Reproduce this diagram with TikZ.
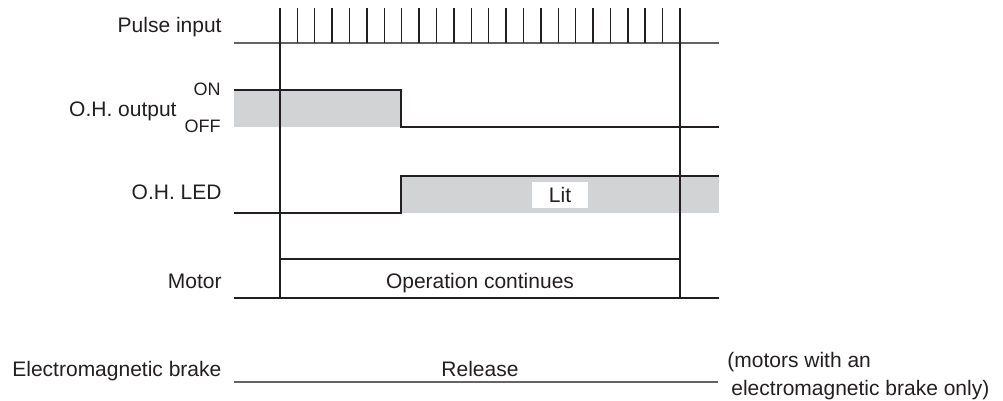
\documentclass[tikz,border=0pt]{standalone}
\usepackage{fontspec}
\setmainfont{Liberation Sans}
\usetikzlibrary{positioning}

\definecolor{zonegray}{RGB}{209,211,212}
\definecolor{ink}{RGB}{35,31,32}
\definecolor{railgray}{RGB}{100,100,100}

\begin{document}
\begin{tikzpicture}[
  x=0.5pt, y=-0.5pt,
  font=\fontsize{10.5}{14}\selectfont,
  sig/.style  ={draw=ink, line width=0.7pt},
  rail/.style ={draw=railgray, line width=1.1pt},
  guide/.style={draw=ink, line width=0.6pt},
  zone/.style ={fill=zonegray},
  lbl/.style  ={anchor=base east, inner sep=0pt, text=ink},
  lvl/.style  ={lbl, font=\fontsize{9}{10}\selectfont},
  txt/.style  ={anchor=base, inner sep=0pt, text=ink},
]
\useasboundingbox (0,0) rectangle (1003,401);

% ---------- signal names on the left ----------
\node[lbl] (lpulse) at (222,33)  {Pulse input};
\node[lbl] (lohout) at (177,117) {O.H. output};
\node[lvl] (lon)    at (221,96)  {ON};
\node[lvl] (loff)   at (221,133) {OFF};
\node[lbl] (lled)   at (222,199) {O.H. LED};
\node[lbl] (lmotor) at (222,289) {Motor};
\node[anchor=base west, inner sep=0pt, text=ink] (lbrake) at (12,376) {Electromagnetic brake};

% ---------- shaded levels ----------
\fill[zone] (234,90) rectangle (401,127);
\fill[zone] (401,176) rectangle (719,213);

% ---------- pulse input ----------
\draw[rail] (234,43) -- (719,43);
\foreach \k in {0,...,23}
  \draw[sig] ({280+17.39*\k},8) -- ({280+17.39*\k},43);

% ---------- time markers ----------
\draw[guide] (280,8) -- (280,298);
\draw[guide] (680,8) -- (680,298);

% ---------- O.H. output and LED ----------
\draw[sig] (234,90) -- (401,90) -- (401,127) -- (719,127);
\draw[sig] (234,213) -- (401,213) -- (401,176) -- (719,176);
\node[fill=white, minimum width=28pt, minimum height=13pt, inner sep=0pt, text=ink] (lit) at (560,195) {Lit};

% ---------- motor ----------
\draw[sig] (234,298) -- (719,298);
\draw[sig] (280,259) -- (680,259);
\node[txt] (opcont) at (480,289) {Operation continues};

% ---------- brake ----------
\draw[rail] (234,382) -- (718,382);
\node[txt] (release) at (480,376) {Release};
\node[anchor=base west, inner sep=0pt, align=left, text=ink] (note) at (727,395)
  {(motors with an\\\hspace{2pt}electromagnetic brake only)};

\end{tikzpicture}
\end{document}
